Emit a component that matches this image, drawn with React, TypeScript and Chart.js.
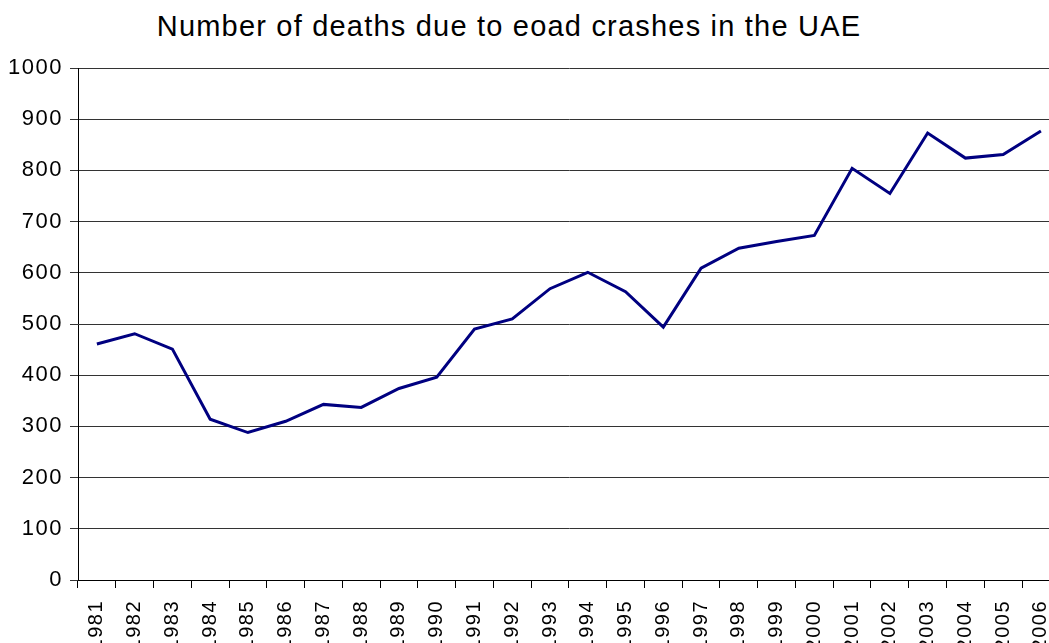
import React, { useEffect, useRef } from "react";
import { Chart, registerables } from "chart.js";

Chart.register(...registerables);

const years: string[] = [
  "1981", "1982", "1983", "1984", "1985", "1986", "1987", "1988", "1989", "1990",
  "1991", "1992", "1993", "1994", "1995", "1996", "1997", "1998", "1999", "2000",
  "2001", "2002", "2003", "2004", "2005", "2006",
];
const deaths: number[] = [
  461, 481, 451, 314, 288, 310, 343, 337, 374, 396,
  490, 510, 569, 601, 563, 494, 609, 648, 661, 673,
  804, 755, 873, 824, 831, 877,
];
const titleText = "Number of deaths due to eoad crashes in the UAE";

const CW = 1077;
const CH = 700;
const FONT = "'Liberation Sans', Arial, sans-serif";

const spacingPlugin = {
  id: "letterSpacing",
  beforeDraw(chart: any) {
    chart.ctx.letterSpacing = "1.5px";
  },
};

export default function App() {
  const ref = useRef<HTMLCanvasElement | null>(null);
  useEffect(() => {
    const canvas = ref.current;
    if (!canvas) return;
    const chart = new Chart(canvas, {
      type: "line",
      data: {
        labels: years,
        datasets: [
          {
            data: deaths,
            borderColor: "#000080",
            borderWidth: 3,
            pointRadius: 0,
            tension: 0,
            fill: false,
          },
        ],
      },
      options: {
        responsive: false,
        animation: false,
        devicePixelRatio: 1,
        layout: { padding: { top: 68, right: 4, left: 0, bottom: 0 } },
        plugins: { legend: { display: false }, tooltip: { enabled: false }, title: { display: false } },
        scales: {
          x: {
            offset: true,
            afterFit: (s: any) => { s.height = CH - 580; },
            grid: { offset: true, drawOnChartArea: false, drawTicks: true, tickLength: 8, color: "#000" },
            border: { color: "#000", width: 1 },
            ticks: {
              autoSkip: false,
              minRotation: 90,
              maxRotation: 90,
              padding: 12,
              color: "#000",
              font: { family: FONT, size: 20 },
            },
          },
          y: {
            min: 0,
            max: 1000,
            afterFit: (s: any) => { s.width = 78; },
            grid: { color: "#333", tickLength: 8, drawTicks: true },
            border: { color: "#000", width: 1 },
            ticks: {
              stepSize: 100,
              padding: 7,
              color: "#000",
              font: { family: FONT, size: 22 },
              callback: (v: any) => String(v),
            },
          },
        },
      },
      plugins: [spacingPlugin],
    });
    return () => chart.destroy();
  }, []);

  return (
    <div style={{ position: "fixed", left: 0, top: 0, width: 1049, height: 643, overflow: "hidden", background: "#fff" }}>
      <div
        style={{
          position: "absolute",
          left: 0,
          top: 11,
          width: 1018,
          textAlign: "center",
          fontFamily: FONT,
          fontSize: 29,
          letterSpacing: "1.2px",
          color: "#000",
          lineHeight: "30px",
          whiteSpace: "nowrap",
        }}
      >
        {titleText}
      </div>
      <canvas
        ref={ref}
        width={CW}
        height={CH}
        style={{ position: "absolute", left: 0, top: 0, width: CW, height: CH, display: "block" }}
      />
    </div>
  );
}
